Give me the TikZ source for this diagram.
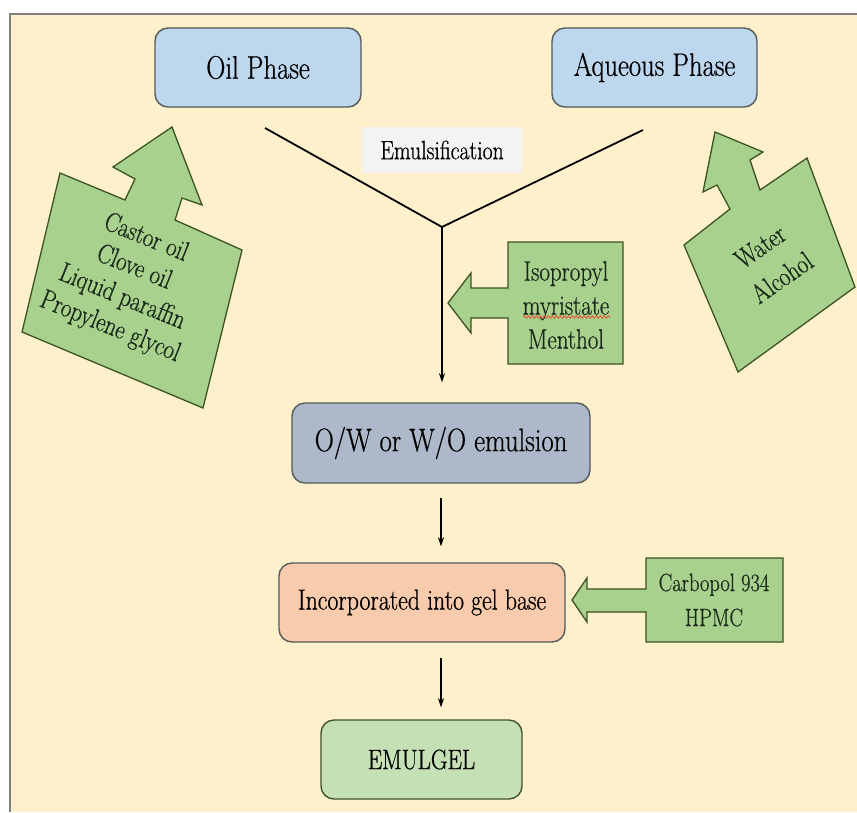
\documentclass[tikz,border=0pt]{standalone}
\usepackage{fontspec}
\setmainfont{Latin Modern Roman}[FakeStretch=0.82, FakeBold=0.6]
\usetikzlibrary{arrows.meta,decorations.pathmorphing,calc}
\definecolor{bgc}{HTML}{FFF0CC}
\definecolor{framec}{HTML}{808080}
\definecolor{phasec}{HTML}{BDD7EE}
\definecolor{owc}{HTML}{ADB9CA}
\definecolor{incc}{HTML}{F8CBAD}
\definecolor{emgc}{HTML}{C5E0B4}
\definecolor{calc}{HTML}{A9D18E}
\definecolor{calline}{HTML}{3B5323}
\definecolor{boxline}{HTML}{555A5A}
\definecolor{caltext}{HTML}{1A2A1A}
\definecolor{wavy}{HTML}{E0583A}
\definecolor{emulbg}{HTML}{F3F3F1}
\tikzset{
  stepbox/.style={draw=boxline, line width=1.4pt, rounded corners=13pt, align=center, inner sep=0pt},
  calloutshape/.style={fill=calc, draw=calline, line width=1.3pt, line join=miter},
  caltxt/.style={text=caltext, align=center, inner sep=0pt},
  flow/.style={draw=black, line width=1.6pt, -{Stealth[length=9pt,width=6pt]}},
  yarm/.style={draw=black, line width=1.8pt}
}
\begin{document}
\begin{tikzpicture}[x=1pt,y=-1pt]
\useasboundingbox (0,0) rectangle (857,812);
% frame
\fill[bgc] (10,14) rectangle (857,812);
\draw[framec, line width=2.5pt] (10,812) -- (10,14) -- (857,14);

% boxes
\node[stepbox, fill=phasec, minimum width=206pt, minimum height=79pt,
  font=\fontsize{32.5}{38}\selectfont] (oil) at (258,67.5) {Oil Phase};
\node[stepbox, fill=phasec, minimum width=205pt, minimum height=79pt,
  font=\fontsize{32.5}{38}\selectfont] (aq) at (654.5,67.5) {Aqueous Phase};
\node[fill=emulbg, minimum width=160pt, minimum height=46pt, inner sep=0pt,
  font=\fontsize{26.5}{30}\selectfont] (emul) at (442,150) {Emulsification};
\node[stepbox, fill=owc, minimum width=298pt, minimum height=80pt,
  font=\fontsize{32.5}{38}\selectfont] (ow) at (441,443) {O/W or W/O emulsion};
\node[stepbox, fill=incc, minimum width=286pt, minimum height=79pt,
  font=\fontsize{29}{34}\selectfont] (inc) at (422,602.5) {Incorporated into gel base};
\node[stepbox, draw=calline!80!boxline, fill=emgc, minimum width=201pt, minimum height=79pt,
  font=\fontsize{28}{33}\selectfont] (emg) at (421.5,759.5) {EMULGEL};

% Y connector
\coordinate (yL) at (265,128);
\coordinate (yR) at (643,130);
\coordinate (yJ) at (442,227);
\draw[yarm, line join=miter] (yL) -- (yJ) -- (yR);
\draw[flow, shorten >=20pt] (yJ) -- (yJ |- ow.north);
\draw[flow, shorten <=14pt, shorten >=16pt] (ow.south) -- (ow.south |- inc.north);
\draw[flow, shorten <=15pt, shorten >=12pt] (ow.south |- inc.south) -- (ow.south |- emg.north);

% left callout (oil ingredients)
\path[calloutshape] (60,173) -- (125,200) -- (135,179) -- (113,167) -- (172,127)
  -- (202,205) -- (182,198) -- (175,220) -- (242,250) -- (203,408) -- (22,332) -- cycle;
\node[caltxt, rotate=-22, font=\fontsize{27.5}{32}\selectfont] (oiltxt) at (128,283)
  {Castor oil\\Clove oil\\Liquid paraffin\\Propylene glycol};

% right callout (aqueous ingredients)
\path[calloutshape] (684,245) -- (730,209) -- (717,185) -- (703,192) -- (715,132)
  -- (763,152) -- (750,160) -- (760,190) -- (807,158) -- (855,287) -- (738,372) -- cycle;
\node[caltxt, rotate=35, font=\fontsize{27.5}{38}\selectfont] (aqtxt) at (771,262)
  {Water\\Alcohol};

% middle callout (penetration enhancers)
\path[calloutshape] (623,242) -- (508,242) -- (508,288) -- (471,288) -- (471,273)
  -- (448,303) -- (471,333) -- (471,318) -- (508,318) -- (508,364) -- (623,364) -- cycle;
\node[caltxt, font=\fontsize{28}{34}\selectfont] (pentxt) at (566,305)
  {Isopropyl\\myristate\\Menthol};
\draw[wavy, line width=0.9pt, decorate,
  decoration={snake, amplitude=1.3pt, segment length=4pt}] (523,317) -- (611,317);

% bottom callout (gelling agents)
\path[calloutshape] (783,558) -- (646,558) -- (646,589) -- (587,589) -- (587,578)
  -- (572,600) -- (587,622) -- (587,612) -- (646,612) -- (646,642) -- (783,642) -- cycle;
\node[caltxt, font=\fontsize{25}{35}\selectfont] (geltxt) at (714,600)
  {Carbopol 934\\HPMC};
\end{tikzpicture}
\end{document}
